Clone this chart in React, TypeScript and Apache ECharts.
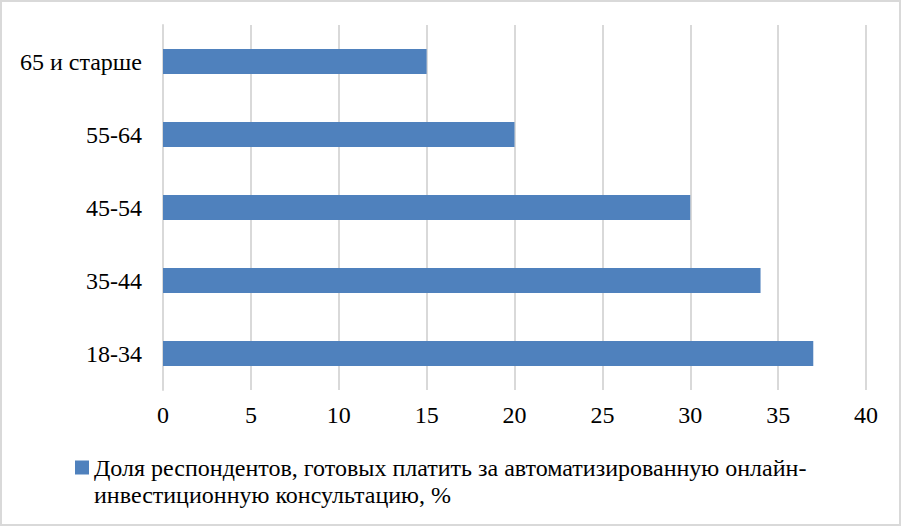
import React, { useEffect, useRef } from "react";
import * as echarts from "echarts";

const categories = ["18-34", "35-44", "45-54", "55-64", "65 и старше"];
const shares = [37, 34, 30, 20, 15];
const seriesName =
  "Доля респондентов, готовых платить за автоматизированную онлайн-инвестиционную консультацию, %";
const legendLines = [
  "Доля респондентов, готовых платить за автоматизированную онлайн-",
  "инвестиционную консультацию, %",
];
const xMin = 0;
const xMax = 40;
const xStep = 5;

const FONT = "'Liberation Serif', 'Times New Roman', serif";

export default function App() {
  const ref = useRef<HTMLDivElement>(null);
  useEffect(() => {
    document.body.style.margin = "0";
    if (!ref.current) return;
    const chart = echarts.init(ref.current, null, { renderer: "svg" });
    chart.setOption({
      animation: false,
      backgroundColor: "#ffffff",
      grid: { left: 163, right: 36, top: 25, bottom: 137 },
      xAxis: {
        type: "value",
        min: xMin,
        max: xMax,
        interval: xStep,
        axisLine: { show: false },
        axisTick: { show: false },
        axisLabel: { fontFamily: FONT, fontSize: 24, color: "#000", margin: 13 },
        splitLine: { show: true, lineStyle: { color: "#d9d9d9", width: 2 } },
      },
      yAxis: {
        type: "category",
        data: categories,
        axisLine: { show: true, lineStyle: { color: "#d9d9d9", width: 2 } },
        axisTick: { show: false },
        axisLabel: { fontFamily: FONT, fontSize: 24, color: "#000", margin: 21 },
      },
      legend: {
        show: true,
        left: 70,
        top: 422,
        icon: "rect",
        itemWidth: 14,
        itemHeight: 14,
        data: [seriesName],
        formatter: () => "\n" + legendLines.join("\n"),
        textStyle: {
          fontFamily: FONT,
          fontSize: 24,
          color: "#000",
          lineHeight: 27,
        },
      },
      graphic: [
        {
          type: "rect",
          silent: true,
          shape: { x: 1, y: 1, width: 899, height: 524 },
          style: { fill: "none", stroke: "#d9d9d9", lineWidth: 2 },
        },
      ],
      series: [
        {
          name: seriesName,
          type: "bar",
          data: shares,
          barWidth: 25,
          itemStyle: { color: "#4f81bd" },
        },
      ],
    });
    return () => chart.dispose();
  }, []);
  return <div ref={ref} style={{ width: 902, height: 527 }} />;
}
